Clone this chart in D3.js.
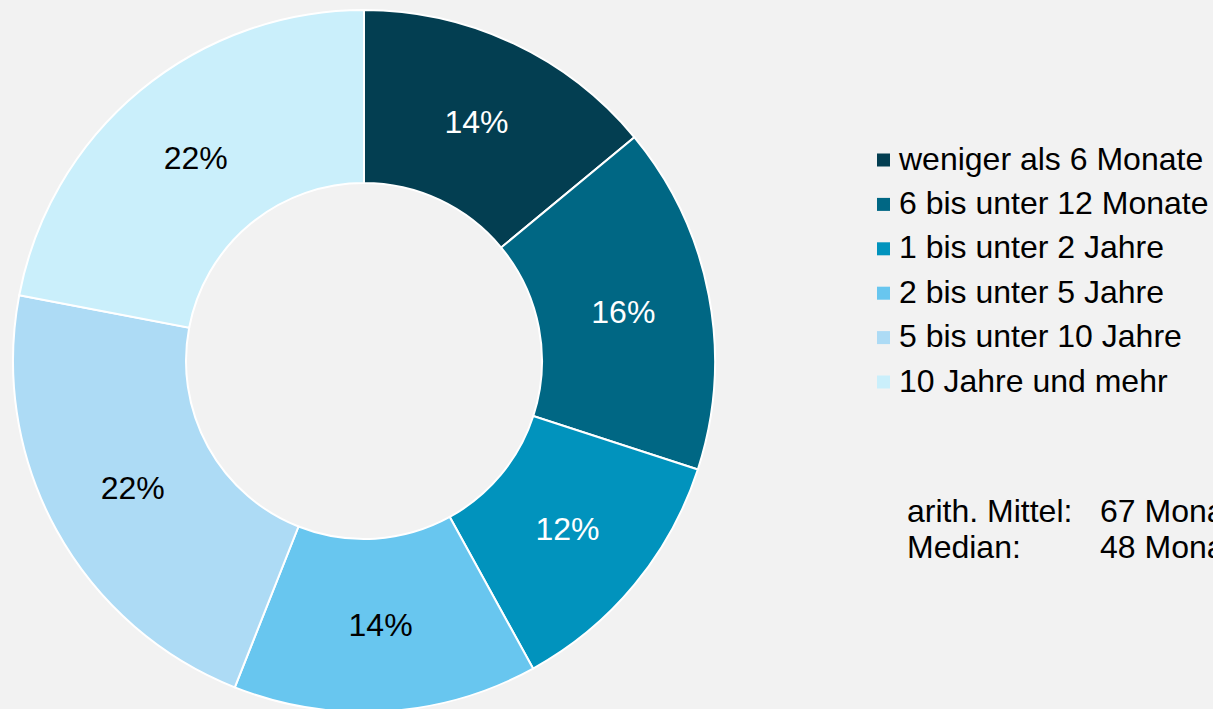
<!DOCTYPE html>
<html>
<head>
<meta charset="utf-8">
<script src="https://cdn.jsdelivr.net/npm/d3@7/dist/d3.min.js"></script>
<style>
  html, body { margin: 0; padding: 0; background: #f2f2f2; overflow: hidden; }
  svg { display: block; font-family: "Liberation Sans", Arial, sans-serif; }
</style>
</head>
<body>
<svg id="chart"></svg>
<script>
// Daten
const categories = [
  'weniger als 6 Monate',
  '6 bis unter 12 Monate',
  '1 bis unter 2 Jahre',
  '2 bis unter 5 Jahre',
  '5 bis unter 10 Jahre',
  '10 Jahre und mehr'
];
const shares = [14, 16, 12, 14, 22, 22];
const colors = ['#033e51', '#006784', '#0193bd', '#68c6ef', '#addbf5', '#caeffb'];
const labelColors = ['#fff', '#fff', '#fff', '#000', '#000', '#000'];
const statLabels = ['arith. Mittel:', 'Median:'];
const statValues = ['67 Monate', '48 Monate'];

const width = 1213, height = 709;
const cx = 364, cy = 361;
const outerR = 351, innerR = 178;

const svg = d3.select('#chart')
  .attr('width', width)
  .attr('height', height);

svg.append('rect')
  .attr('width', width)
  .attr('height', height)
  .attr('fill', '#f2f2f2');

const pie = d3.pie().sort(null).value(d => d);
const arc = d3.arc().innerRadius(innerR).outerRadius(outerR);
const labelArc = d3.arc().innerRadius(264).outerRadius(264);

const g = svg.append('g').attr('transform', `translate(${cx},${cy})`);
const arcs = pie(shares);

g.selectAll('path')
  .data(arcs)
  .enter()
  .append('path')
  .attr('d', arc)
  .attr('fill', (d, i) => colors[i])
  .attr('stroke', '#fff')
  .attr('stroke-width', 2);

g.selectAll('text.pct')
  .data(arcs)
  .enter()
  .append('text')
  .attr('class', 'pct')
  .attr('transform', d => `translate(${labelArc.centroid(d)})`)
  .attr('text-anchor', 'middle')
  .attr('dy', '0.35em')
  .attr('font-size', '32px')
  .attr('fill', (d, i) => labelColors[i])
  .text(d => d.data + '%');

// Legende
const legend = svg.append('g').attr('transform', 'translate(877, 160)');
categories.forEach((c, i) => {
  const y = i * 44.4;
  legend.append('rect')
    .attr('x', 0)
    .attr('y', y - 6.5)
    .attr('width', 13)
    .attr('height', 13)
    .attr('fill', colors[i]);
  legend.append('text')
    .attr('x', 22)
    .attr('y', y + 9.5)
    .attr('font-size', '32px')
    .attr('fill', '#000')
    .text(c);
});

// Kennzahlen
statLabels.forEach((s, i) => {
  const y = 522 + i * 36;
  svg.append('text')
    .attr('x', 907).attr('y', y)
    .attr('font-size', '32px').attr('fill', '#000')
    .text(s);
  svg.append('text')
    .attr('x', 1100).attr('y', y)
    .attr('font-size', '32px').attr('fill', '#000')
    .text(statValues[i]);
});
</script>
</body>
</html>
